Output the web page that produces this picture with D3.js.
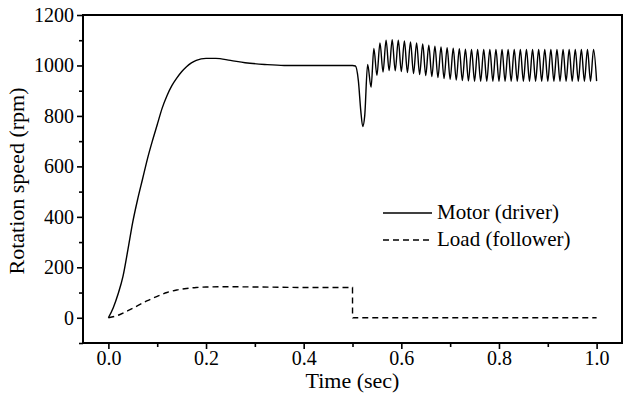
<!DOCTYPE html>
<html lang="en">

<head>
  <meta charset="UTF-8">
  <title>Rotation speed</title>
  <script src="https://d3js.org/d3.v7.min.js"></script>
  <style>
    body {
      margin: 0;
      background: #fff;
    }

    svg text {
      font-family: "Liberation Serif", "Times New Roman", serif;
      fill: #000;
    }
  </style>
</head>

<body>
  <div id="chart"></div>

  <script>
    // Motor (driver): start-up and load-change transient
    const motorTime = [0, 0.01, 0.02, 0.03, 0.04, 0.05, 0.06, 0.07, 0.08, 0.09, 0.10, 0.11, 0.12, 0.13,
      0.14, 0.15, 0.16, 0.17, 0.18, 0.20, 0.22, 0.25, 0.28, 0.32, 0.36, 0.50, 0.506, 0.512, 0.517,
      0.521, 0.525, 0.531, 0.538];
    const motorSpeed = [0, 40, 95, 165, 270, 380, 470, 550, 630, 700, 765, 830, 880, 920,
      950, 975, 995, 1010, 1020, 1028, 1028, 1020, 1011, 1004, 1000, 1000, 998, 940, 820,
      758, 800, 1004, 914];

    // Motor ripple after the load is released: peaks and troughs
    const peakTime = [0.5438, 0.5563, 0.5688, 0.5813, 0.5938, 0.6063, 0.6188, 0.6313, 0.6438, 0.6563,
      0.6688, 0.6813, 0.6938, 0.7063, 0.7188, 0.7313, 0.7438, 0.7563, 0.7688, 0.7813, 0.7938, 0.8063,
      0.8188, 0.8313, 0.8438, 0.8563, 0.8688, 0.8813, 0.8938, 0.9063, 0.9188, 0.9313, 0.9438, 0.9563,
      0.9688, 0.9813, 0.9938];
    const peakSpeed = [1067, 1089, 1100, 1102, 1100, 1097, 1093, 1089, 1085, 1080,
      1076, 1073, 1070, 1068, 1066, 1064, 1063, 1063, 1063, 1063, 1063, 1063,
      1063, 1063, 1063, 1063, 1063, 1063, 1063, 1063, 1063, 1063, 1063, 1063,
      1063, 1063, 1063];
    const troughTime = [0.55, 0.5625, 0.575, 0.5875, 0.6, 0.6125, 0.625, 0.6375, 0.65, 0.6625,
      0.675, 0.6875, 0.7, 0.7125, 0.725, 0.7375, 0.75, 0.7625, 0.775, 0.7875, 0.8, 0.8125,
      0.825, 0.8375, 0.85, 0.8625, 0.875, 0.8875, 0.9, 0.9125, 0.925, 0.9375, 0.95, 0.9625,
      0.975, 0.9875, 1.0];
    const troughSpeed = [961, 974, 980, 979, 976, 972, 968, 964, 960, 956,
      952, 948, 945, 942, 940, 939, 938, 938, 938, 938, 938, 938,
      938, 938, 938, 938, 938, 938, 938, 938, 938, 938, 938, 938,
      938, 938, 938];

    // Load (follower)
    const loadTime = [0, 0.02, 0.04, 0.06, 0.08, 0.10, 0.12, 0.14, 0.16, 0.18, 0.20, 0.25, 0.30,
      0.35, 0.40, 0.45, 0.50, 0.5001, 1.0];
    const loadSpeed = [0, 10, 28, 48, 68, 85, 100, 110, 116, 120, 122, 123, 122,
      121, 120, 120, 120, 0, 0];

    const xMajor = [0, 0.2, 0.4, 0.6, 0.8, 1.0];
    const xMinor = [0.1, 0.3, 0.5, 0.7, 0.9];
    const yMajor = [0, 200, 400, 600, 800, 1000, 1200];
    const yMinor = [-100, 100, 300, 500, 700, 900, 1100];

    const seriesNames = ["Motor (driver)", "Load (follower)"];

    const W = 630, H = 394;
    const margin = { top: 15, right: 8, bottom: 51, left: 83 };
    const width = W - margin.left - margin.right;
    const height = H - margin.top - margin.bottom;
    const serif = "'Liberation Serif', 'Times New Roman', serif";

    const svg = d3.select("#chart").append("svg")
      .attr("width", W)
      .attr("height", H)
      .append("g")
      .attr("transform", `translate(${margin.left},${margin.top})`);

    const x = d3.scaleLinear().domain([-0.052, 1.052]).range([0, width]);
    const y = d3.scaleLinear().domain([-100, 1200]).range([height, 0]);

    const motor = motorTime.map((t, i) => [t, motorSpeed[i]])
      .concat(peakTime.map((t, i) => [t, peakSpeed[i]]))
      .concat(troughTime.map((t, i) => [t, troughSpeed[i]]))
      .sort((a, b) => a[0] - b[0]);
    const load = loadTime.map((t, i) => [t, loadSpeed[i]]);

    const line = d3.line()
      .x(d => x(d[0]))
      .y(d => y(d[1]))
      .curve(d3.curveMonotoneX);

    svg.append("path")
      .datum(motor)
      .attr("fill", "none")
      .attr("stroke", "#000")
      .attr("stroke-width", 1.4)
      .attr("d", line);

    svg.append("path")
      .datum(load)
      .attr("fill", "none")
      .attr("stroke", "#000")
      .attr("stroke-width", 1.4)
      .attr("stroke-dasharray", "6,4")
      .attr("d", line);

    // axes
    svg.append("g")
      .attr("transform", `translate(0,${height})`)
      .call(d3.axisBottom(x).tickValues(xMajor).tickFormat(d3.format(".1f")).tickSize(6).tickPadding(2));
    svg.append("g")
      .attr("transform", `translate(0,${height})`)
      .call(d3.axisBottom(x).tickValues(xMinor).tickFormat("").tickSize(4));

    svg.append("g")
      .call(d3.axisLeft(y).tickValues(yMajor).tickFormat(d3.format("d")).tickSize(6).tickPadding(3));
    svg.append("g")
      .call(d3.axisLeft(y).tickValues(yMinor).tickFormat("").tickSize(4));

    svg.selectAll(".domain").remove();
    svg.selectAll(".tick line").attr("stroke", "#000").attr("stroke-width", 1.6);
    svg.selectAll(".tick text")
      .attr("font-size", "20px")
      .attr("font-family", serif)
      .attr("fill", "#000");

    // frame
    svg.append("rect")
      .attr("x", 0)
      .attr("y", 0)
      .attr("width", width)
      .attr("height", height)
      .attr("fill", "none")
      .attr("stroke", "#000")
      .attr("stroke-width", 2);

    // axis titles
    svg.append("text")
      .attr("x", x(0.5))
      .attr("y", height + 45)
      .attr("text-anchor", "middle")
      .attr("font-family", serif)
      .attr("font-size", "22px")
      .text("Time (sec)");

    svg.append("text")
      .attr("transform", "rotate(-90)")
      .attr("x", -height / 2 - 2)
      .attr("y", -59)
      .attr("text-anchor", "middle")
      .attr("font-family", serif)
      .attr("font-size", "22px")
      .text("Rotation speed (rpm)");

    // legend
    const legend = svg.append("g")
      .attr("transform", `translate(${383 - margin.left},${213 - margin.top})`);
    seriesNames.forEach((name, i) => {
      const g = legend.append("g").attr("transform", `translate(0,${i * 27})`);
      g.append("line")
        .attr("x1", 0).attr("x2", 49)
        .attr("y1", 0).attr("y2", 0)
        .attr("stroke", "#000")
        .attr("stroke-width", 1.4)
        .attr("stroke-dasharray", i === 1 ? "6,4" : null);
      g.append("text")
        .attr("x", 54)
        .attr("y", 6)
        .attr("font-family", serif)
        .attr("font-size", "21px")
        .text(name);
    });
  </script>
</body>

</html>
